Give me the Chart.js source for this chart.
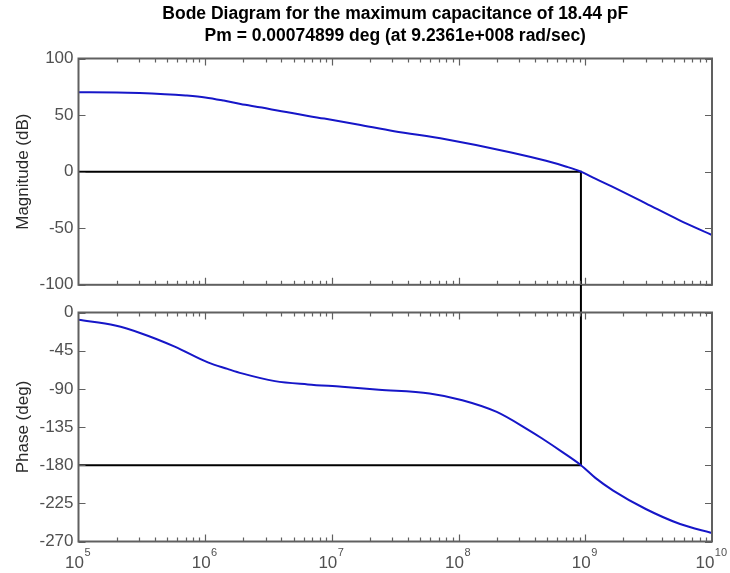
<!DOCTYPE html>
<html>
<head>
<meta charset="utf-8">
<title>Bode Diagram</title>
<script src="https://cdn.jsdelivr.net/npm/chart.js@4.4.1/dist/chart.umd.min.js"></script>
<style>
  html, body { margin: 0; padding: 0; background: #ffffff; }
  #wrap { position: relative; width: 730px; height: 573px; overflow: hidden; }
  canvas { position: absolute; left: 0; }
  #mag { top: 0; }
  #phase { top: 285px; }
</style>
</head>
<body>
<div id="wrap">
  <canvas id="mag" width="730" height="300"></canvas>
  <canvas id="phase" width="730" height="288"></canvas>
</div>
<script>
// Frequency response of the loop (rad/sec)
const magFreq  = [1e5, 2e5, 4.8e5, 7e5, 1e6, 1.4e6, 1.9e6, 2.8e6, 4e6, 8.7e6, 1.6e7, 3.1e7, 7.9e7, 2.6e8, 4.9e8, 7e8, 9.2361e8, 1.2e9, 1.6e9, 3.0e9, 5.5e9, 1e10];
const magDb    = [70.2, 70.0, 68.5, 67.3, 65.6, 62.8, 59.8, 56.6, 53.3, 46.9, 41.7, 35.8, 28.6, 17.0, 9.6, 4.6, 0, -6.2, -12.8, -28.0, -42.8, -56.0];

const phaseFreq = [1e5, 1.95e5, 3.1e5, 5.75e5, 1.05e6, 1.5e6, 1.95e6, 3.55e6, 6.45e6, 1.2e7, 2.35e7, 5.9e7, 1.07e8, 2.0e8, 3.6e8, 4.5e8, 6.6e8, 9.2361e8, 1.2e9, 1.66e9, 3.0e9, 5.6e9, 1e10];
const phaseDeg  = [-8.6, -15.4, -24.4, -40.2, -58.8, -66.5, -71.8, -80.9, -84.8, -87.6, -91.0, -95.5, -103.4, -117.2, -138.9, -148.0, -164.6, -180, -195.0, -210, -231.7, -249.4, -260];

// Gain crossover and the reference levels
const crossoverFreq = 9.2361e8;
const freqMin = 1e5;
const freqMax = 1e10;
const zeroDb = 0;
const phaseRef = -180;

// Axis ticks
const magTicks   = [-100, -50, 0, 50, 100];
const phaseTicks = [-270, -225, -180, -135, -90, -45, 0];
const decadeExps = [5, 6, 7, 8, 9, 10];

const titleLines = [
  'Bode Diagram for the maximum capacitance of 18.44 pF',
  'Pm = 0.00074899 deg (at 9.2361e+008 rad/sec)'
];

const FONT = "'Liberation Sans', Arial, Helvetica, sans-serif";
const CURVE = '#1616c8';
const FRAME = '#606060';
const LABEL = '#505050';

const toXY = (xs, ys) => xs.map((x, i) => ({ x: x, y: ys[i] }));

// Box around the axes with inward major and minor ticks
const axesBox = {
  id: 'axesBox',
  afterDatasetsDraw(chart) {
    const { ctx, chartArea: a, scales } = chart;
    const xs = scales.x, ys = scales.y;
    ctx.save();
    ctx.strokeStyle = FRAME;
    ctx.lineWidth = 1.2;
    ctx.beginPath();
    for (let e = decadeExps[0]; e < decadeExps[decadeExps.length - 1]; e++) {
      for (let m = 1; m <= 9; m++) {
        const v = m * Math.pow(10, e);
        if (v <= freqMin) continue;
        const px = Math.round(xs.getPixelForValue(v)) + 0.5;
        const len = m === 1 ? 7 : 4;
        ctx.moveTo(px, a.top); ctx.lineTo(px, a.top + len);
        ctx.moveTo(px, a.bottom); ctx.lineTo(px, a.bottom - len);
      }
    }
    ys.ticks.forEach(t => {
      const py = Math.round(ys.getPixelForValue(t.value)) + 0.5;
      ctx.moveTo(a.left, py); ctx.lineTo(a.left + 7, py);
      ctx.moveTo(a.right, py); ctx.lineTo(a.right - 7, py);
    });
    ctx.stroke();
    ctx.lineWidth = 2;
    ctx.strokeRect(a.left, a.top, a.right - a.left, a.bottom - a.top);
    ctx.restore();
  }
};

// Decade labels 10^n under the phase axes
const decadeLabels = {
  id: 'decadeLabels',
  afterDraw(chart) {
    const { ctx, chartArea: a, scales } = chart;
    ctx.save();
    ctx.fillStyle = LABEL;
    ctx.textBaseline = 'alphabetic';
    ctx.textAlign = 'left';
    decadeExps.forEach(e => {
      const px = scales.x.getPixelForValue(Math.pow(10, e));
      ctx.font = '17px ' + FONT;
      const base = '10';
      const wb = ctx.measureText(base).width;
      ctx.font = '11px ' + FONT;
      const ex = String(e);
      const we = ctx.measureText(ex).width;
      const x0 = px - (wb + we) / 2 - 1;
      ctx.font = '17px ' + FONT;
      ctx.fillText(base, x0, a.bottom + 26);
      ctx.font = '11px ' + FONT;
      ctx.fillText(ex, x0 + wb + 0.5, a.bottom + 14);
    });
    ctx.restore();
  }
};

// Short stretch of the crossover line bridging the gap between the two axes
const crossoverBridge = {
  id: 'crossoverBridge',
  afterDatasetsDraw(chart) {
    const { ctx, chartArea: a, scales } = chart;
    const px = scales.x.getPixelForValue(crossoverFreq);
    ctx.save();
    ctx.strokeStyle = '#000';
    ctx.lineWidth = 2;
    ctx.beginPath();
    ctx.moveTo(px, 0);
    ctx.lineTo(px, a.top);
    ctx.stroke();
    ctx.restore();
  }
};

function yScale(min, max, ticks, label) {
  return {
    min: min, max: max,
    afterBuildTicks(s) { s.ticks = ticks.map(v => ({ value: v })); },
    afterFit(s) { s.width = 78.5; },
    grid: { display: false, drawTicks: false },
    border: { display: false },
    ticks: { color: LABEL, padding: 5, font: { family: FONT, size: 17 } },
    title: { display: true, text: label, color: '#2a2a2a', padding: { top: 13, bottom: 0 }, font: { family: FONT, size: 17 } }
  };
}

const xScale = { type: 'logarithmic', min: freqMin, max: freqMax, display: false };

const common = {
  animation: false,
  responsive: false,
  events: [],
  elements: { point: { radius: 0 } }
};

new Chart(document.getElementById('mag'), {
  type: 'line',
  data: {
    datasets: [
      { data: toXY(magFreq, magDb), borderColor: CURVE, borderWidth: 2, cubicInterpolationMode: 'monotone' },
      { data: [{ x: freqMin, y: zeroDb }, { x: crossoverFreq, y: zeroDb }, { x: crossoverFreq, y: magTicks[0] }],
        borderColor: '#000', borderWidth: 2, tension: 0 }
    ]
  },
  options: Object.assign({}, common, {
    layout: { padding: { left: 0, right: 18, top: 0, bottom: 13 } },
    plugins: {
      legend: { display: false },
      tooltip: { enabled: false },
      title: {
        display: true, fullSize: false, text: titleLines, color: '#000',
        font: { family: FONT, size: 17.5, weight: 'bold', lineHeight: '22px' },
        padding: { top: 3.5, bottom: 11 }
      }
    },
    scales: { x: xScale, y: yScale(-100, 100, magTicks, 'Magnitude (dB)') }
  }),
  plugins: [axesBox]
});

new Chart(document.getElementById('phase'), {
  type: 'line',
  data: {
    datasets: [
      { data: toXY(phaseFreq, phaseDeg), borderColor: CURVE, borderWidth: 2, cubicInterpolationMode: 'monotone' },
      { data: [{ x: freqMin, y: phaseRef }, { x: crossoverFreq, y: phaseRef }, { x: crossoverFreq, y: phaseTicks[phaseTicks.length - 1] }],
        borderColor: '#000', borderWidth: 2, tension: 0 }
    ]
  },
  options: Object.assign({}, common, {
    layout: { padding: { left: 0, right: 18, top: 27.5, bottom: 31.5 } },
    plugins: { legend: { display: false }, tooltip: { enabled: false } },
    scales: { x: xScale, y: yScale(-270, 0, phaseTicks, 'Phase (deg)') }
  }),
  plugins: [crossoverBridge, axesBox, decadeLabels]
});
</script>
</body>
</html>
